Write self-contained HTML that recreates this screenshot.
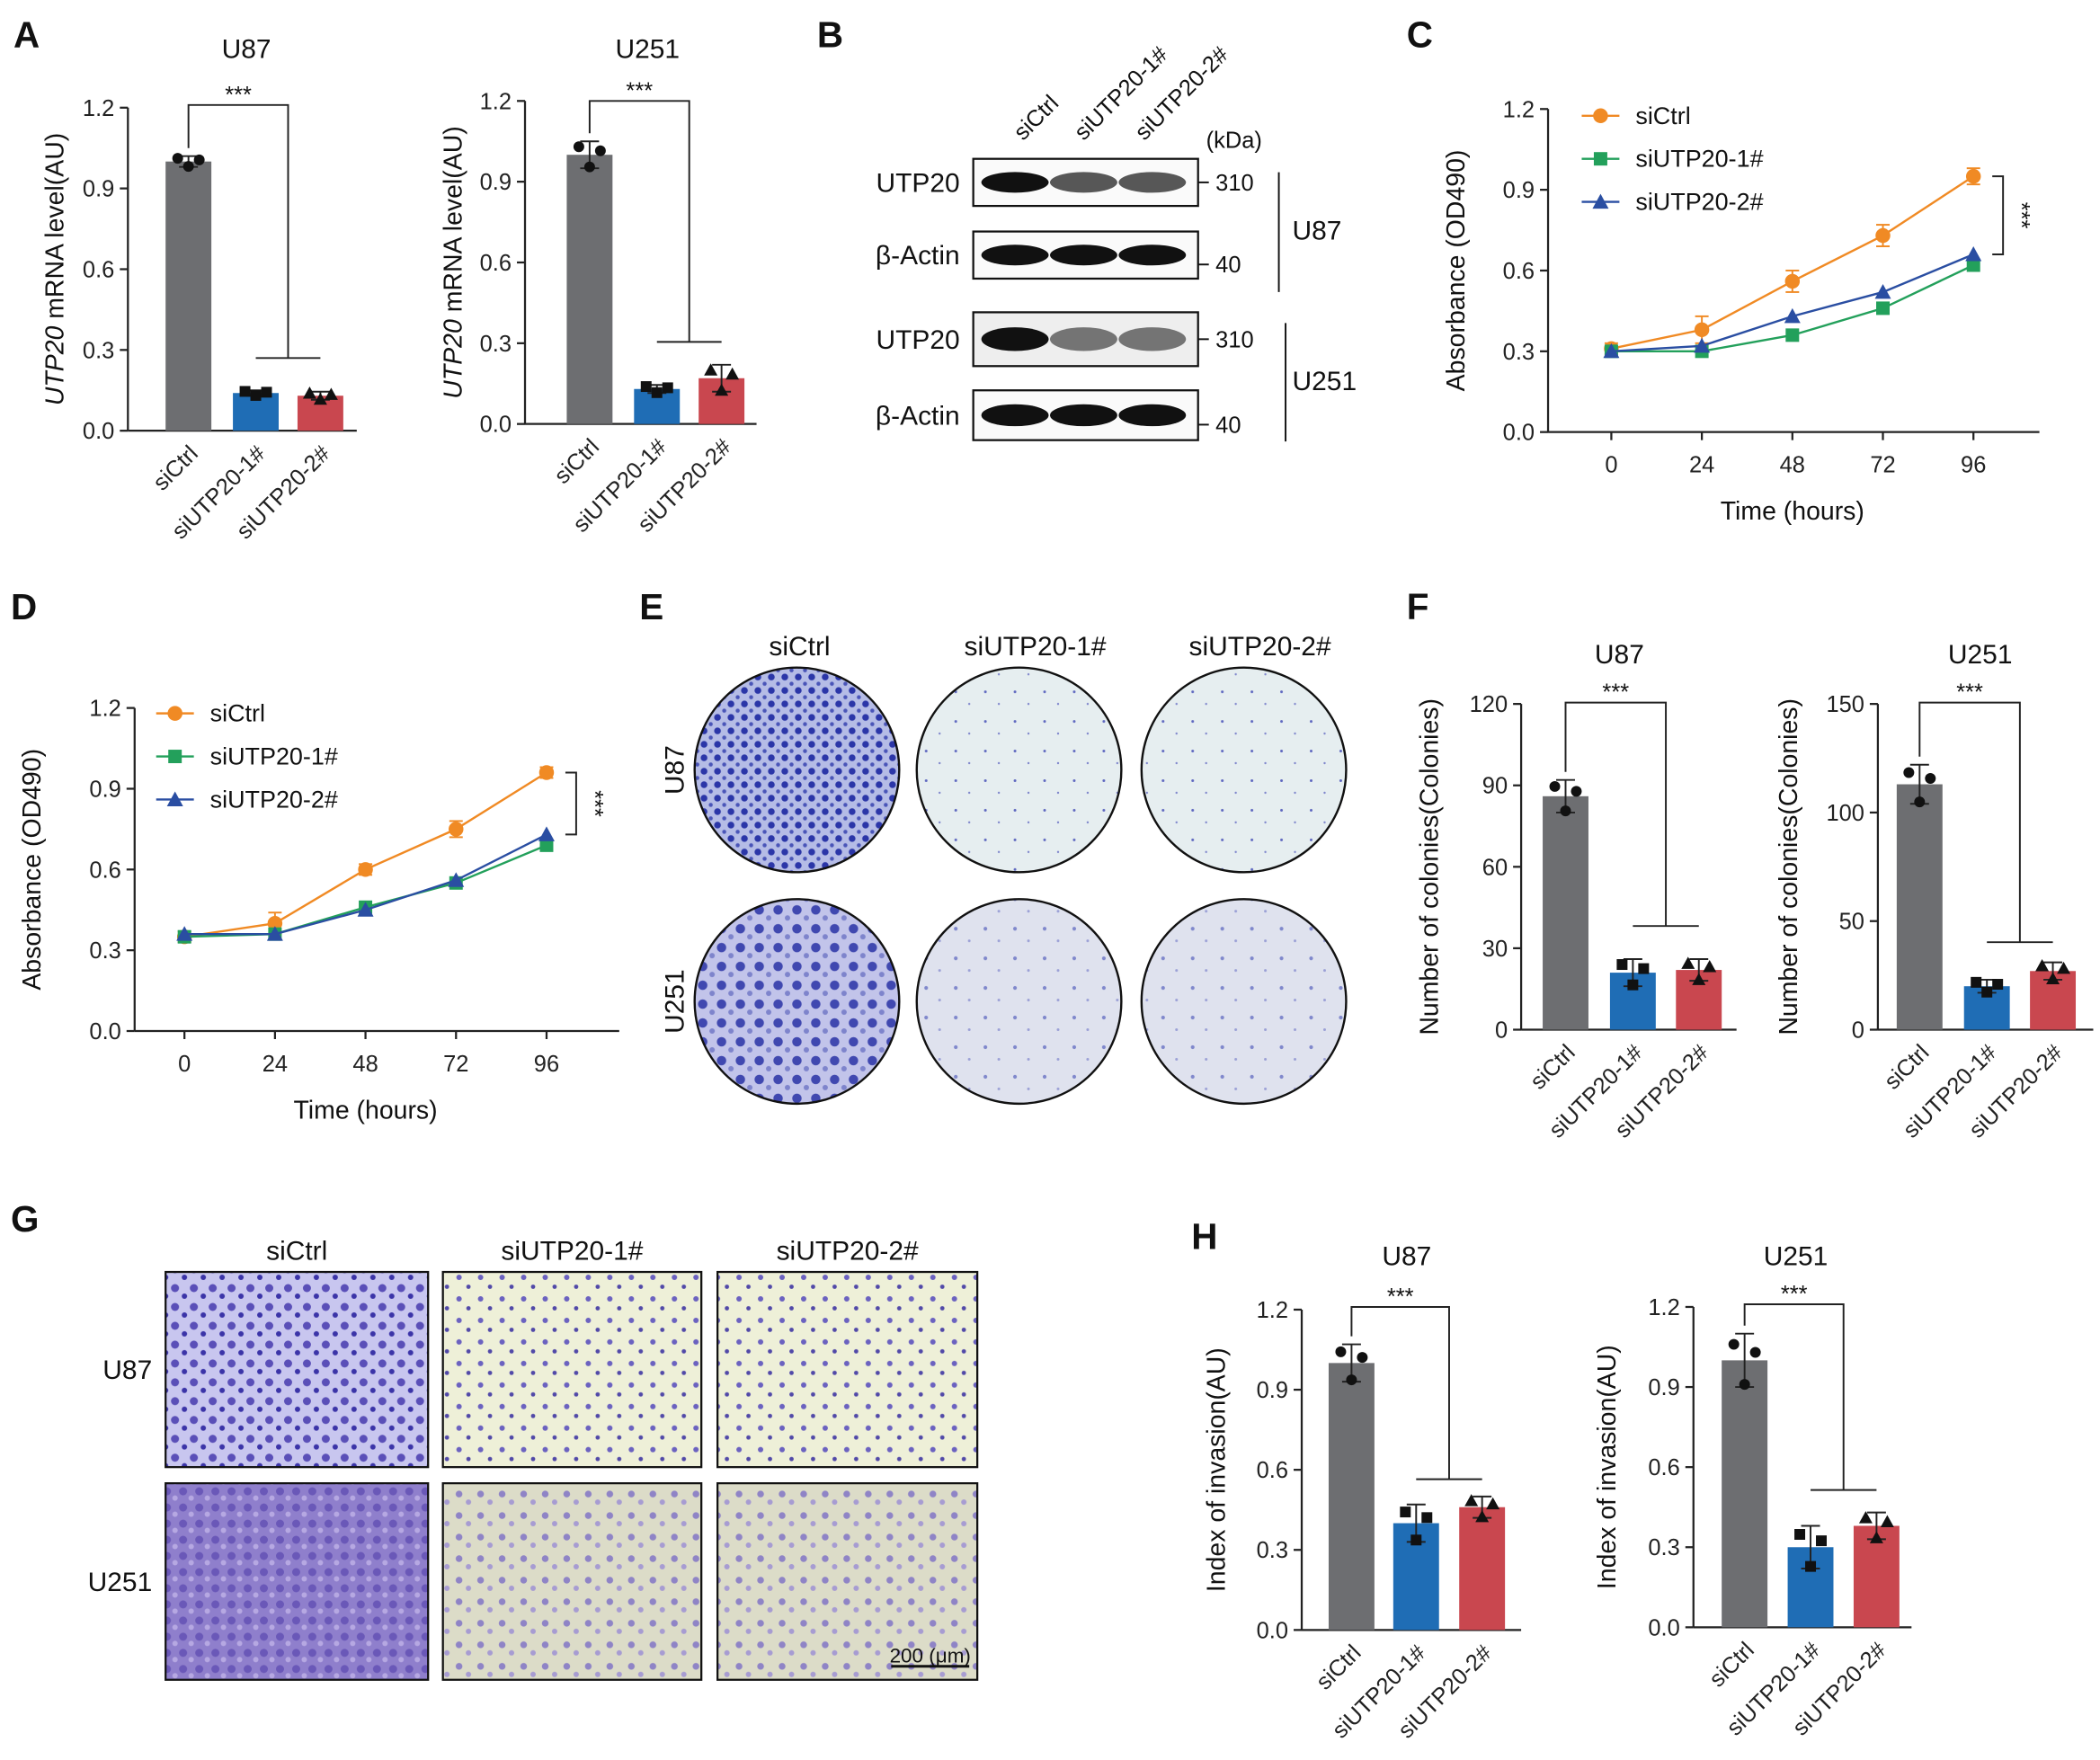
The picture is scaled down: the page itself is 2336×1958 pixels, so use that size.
<!DOCTYPE html>
<html><head><meta charset="utf-8"><style>
html,body{margin:0;padding:0;background:#fff;}
svg{display:block;font-family:"Liberation Sans",Arial,sans-serif;}
</style></head><body>
<svg id="fig" width="2336" height="1958" viewBox="0 0 1560 1307.6" xmlns="http://www.w3.org/2000/svg">
<defs>
<pattern id="cellsA" width="14" height="14" patternUnits="userSpaceOnUse"><rect width="14" height="14" fill="#c8c6ef"/><circle cx="4" cy="5" r="3" fill="#5a4fb8"/><circle cx="11" cy="11" r="2" fill="#3b34a8"/></pattern>
<pattern id="cellsB" width="16" height="16" patternUnits="userSpaceOnUse"><rect width="16" height="16" fill="#eef0d8"/><circle cx="5" cy="5" r="2" fill="#6b62c0"/><circle cx="12" cy="12" r="1.6" fill="#5149a8"/></pattern>
<pattern id="cellsC" width="12" height="12" patternUnits="userSpaceOnUse"><rect width="12" height="12" fill="#8f7fcc"/><circle cx="4" cy="4" r="3" fill="#6a58b8"/><circle cx="10" cy="9" r="2" fill="#b6a8e2"/></pattern>
<pattern id="cellsD" width="16" height="16" patternUnits="userSpaceOnUse"><rect width="16" height="16" fill="#dcdcc8"/><circle cx="5" cy="6" r="2.5" fill="#8f84c6"/><circle cx="12" cy="12" r="2" fill="#a79cd2"/></pattern>
<pattern id="colA" width="10" height="10" patternUnits="userSpaceOnUse"><rect width="10" height="10" fill="#b5bce6"/><circle cx="3" cy="3" r="2.5" fill="#2b36a8"/><circle cx="8" cy="8" r="1.5" fill="#4a55b8"/></pattern>
<pattern id="colB" width="14" height="14" patternUnits="userSpaceOnUse"><rect width="14" height="14" fill="#c2c4ea"/><circle cx="4" cy="4" r="3.5" fill="#4048b0"/><circle cx="11" cy="10" r="2" fill="#7e84cc"/></pattern>
<pattern id="colL" width="22" height="22" patternUnits="userSpaceOnUse"><rect width="22" height="22" fill="#e6eef0"/><circle cx="6" cy="8" r="1" fill="#5f68c0"/><circle cx="16" cy="17" r="0.8" fill="#7f86cc"/></pattern>
<pattern id="colM" width="22" height="22" patternUnits="userSpaceOnUse"><rect width="22" height="22" fill="#dfe2ee"/><circle cx="6" cy="8" r="1.4" fill="#8088cc"/><circle cx="16" cy="17" r="1" fill="#9ba0d6"/></pattern>
</defs>
<g id="root"></g>
</svg>
<script>
// ---- Data ----
var barCats = ["siCtrl","siUTP20-1#","siUTP20-2#"];
var a87Vals = [1.0, 0.14, 0.13];
var a87Err = [0.02, 0.01, 0.015];
var a251Vals = [1.0, 0.13, 0.17];
var a251Err = [0.05, 0.015, 0.05];
var f87Vals = [86, 21, 22];
var f87Err = [6, 5, 4];
var f251Vals = [113, 20, 27];
var f251Err = [9, 3, 4];
var h87Vals = [1.0, 0.40, 0.46];
var h87Err = [0.07, 0.07, 0.04];
var h251Vals = [1.0, 0.30, 0.38];
var h251Err = [0.10, 0.08, 0.05];
var ticks12 = [0, 0.3, 0.6, 0.9, 1.2];
var ticks120 = [0, 30, 60, 90, 120];
var ticks150 = [0, 50, 100, 150];
var timeHours = [0, 24, 48, 72, 96];
var seriesNames = ["siCtrl","siUTP20-1#","siUTP20-2#"];
var cCtrl = [0.31, 0.38, 0.56, 0.73, 0.95];
var cSi1 = [0.30, 0.30, 0.36, 0.46, 0.62];
var cSi2 = [0.30, 0.32, 0.43, 0.52, 0.66];
var cErr = [0.02, 0.05, 0.04, 0.04, 0.03];
var dCtrl = [0.35, 0.40, 0.60, 0.75, 0.96];
var dSi1 = [0.35, 0.36, 0.46, 0.55, 0.69];
var dSi2 = [0.36, 0.36, 0.45, 0.56, 0.73];
var dErr = [0.02, 0.04, 0.02, 0.03, 0.02];

var NS="http://www.w3.org/2000/svg";
var root=document.getElementById('root');
function el(tag,attrs,parent,text){var e=document.createElementNS(NS,tag);for(var k in attrs)e.setAttribute(k,attrs[k]);if(text!==undefined)e.textContent=text;(parent||root).appendChild(e);return e;}
var barColors=["#6d6e71","#1f6db5","#c9474f"];
var lineColors=["#f08a24","#23a05b","#2a4ea2"];

function panelLetter(t,x,y){var e=el('text',{x:x,y:y,'font-size':27,'font-weight':'bold',fill:'#111'},root,t);

}

function barChart(c){
  var g=el('g',{});
  
  
  function ys(v){return c.yBot-(v/c.ymax)*(c.yBot-c.yTop);}
  var t=el('text',{x:c.titleX,y:c.titleY,'font-size':20,'text-anchor':'middle',fill:'#111'},g,c.title);
  
  
  var ax=el('line',{x1:c.x0,y1:c.yTop,x2:c.x0,y2:c.yBot,stroke:'#222','stroke-width':1.5},g);
  
  
  var xa=el('line',{x1:c.x0,y1:c.yBot,x2:c.xEnd,y2:c.yBot,stroke:'#222','stroke-width':1.5},g);
  
  
  c.ticks.forEach(function(v){var y=ys(v);el('line',{x1:c.x0-6,y1:y,x2:c.x0,y2:y,stroke:'#222','stroke-width':1.5},g);
    var tl=el('text',{x:c.x0-10,y:y+6,'font-size':17,'text-anchor':'end',fill:'#222'},g,c.fmt(v));
    
    });
  var yt=el('text',{transform:'translate('+c.ytX+','+((c.yTop+c.yBot)/2)+') rotate(-90)','font-size':19,'text-anchor':'middle',fill:'#111'},g);
  
  
  if(c.italic){el('tspan',{'font-style':'italic'},yt,c.italic);}
  el('tspan',{},yt,c.ytitle);
  var w=34;
  c.vals.forEach(function(v,i){
    var cx=c.cx[i];
    var b=el('rect',{x:cx-w/2,y:ys(v),width:w,height:c.yBot-ys(v),fill:barColors[i]},g);
    
    
    var eh=ys(v+c.err[i]),elw=ys(Math.max(0,v-c.err[i]));
    el('line',{x1:cx,y1:eh,x2:cx,y2:elw,stroke:'#222','stroke-width':1.3},g);
    el('line',{x1:cx-7,y1:eh,x2:cx+7,y2:eh,stroke:'#222','stroke-width':1.3},g);
    el('line',{x1:cx-7,y1:elw,x2:cx+7,y2:elw,stroke:'#222','stroke-width':1.3},g);
    var offs=[[-8,0.6],[0,-0.9],[8,0.3]];
    offs.forEach(function(o){var py=ys(v+o[1]*c.err[i]);var px=cx+o[0];var p;
      if(i==0)p=el('circle',{cx:px,cy:py,r:4,fill:'#111'},g);
      else if(i==1)p=el('rect',{x:px-4,y:py-4,width:8,height:8,fill:'#111'},g);
      else p=el('path',{d:'M'+px+','+(py-5)+' L'+(px+5)+','+(py+4)+' L'+(px-5)+','+(py+4)+'Z',fill:'#111'},g);
      
      });
    var lab=el('text',{transform:'translate('+(cx+8)+','+(c.yBot+18)+') rotate(-45)','font-size':17,'text-anchor':'end',fill:'#222'},g,barCats[i]);
    
    
  });
  var top=c.brTop, lx=c.cx[0], rx=(c.cx[1]+c.cx[2])/2;
  el('path',{d:'M'+lx+','+(ys(c.vals[0]+c.err[0])-6)+' L'+lx+','+top+' L'+rx+','+top+' L'+rx+','+c.brLow,fill:'none',stroke:'#222','stroke-width':1.3},g);
  el('line',{x1:c.cx[1],y1:c.brLow,x2:c.cx[2],y2:c.brLow,stroke:'#222','stroke-width':1.3},g);
  var s=el('text',{x:(lx+rx)/2,y:top-2,'font-size':17,'text-anchor':'middle',fill:'#111'},g,'***');
  
  
}

function lineChart(c){
  var g=el('g',{});
  
  
  function ys(v){return c.yBot-(v/1.2)*(c.yBot-c.yTop);}
  function xs(t){return c.xa+(t/96)*(c.xb-c.xa);}
  var t=el('text',{x:c.titleX,y:c.titleY,'font-size':20,'text-anchor':'middle',fill:'#111'},g,c.title);
  
  
  var ax=el('line',{x1:c.x0,y1:c.yTop,x2:c.x0,y2:c.yBot,stroke:'#222','stroke-width':1.5},g);
  
  
  var xa=el('line',{x1:c.x0,y1:c.yBot,x2:c.xEnd,y2:c.yBot,stroke:'#222','stroke-width':1.5},g);
  
  
  ticks12.forEach(function(v){var y=ys(v);el('line',{x1:c.x0-6,y1:y,x2:c.x0,y2:y,stroke:'#222','stroke-width':1.5},g);
    var tl=el('text',{x:c.x0-10,y:y+6,'font-size':17,'text-anchor':'end',fill:'#222'},g,v.toFixed(1));
    
    });
  timeHours.forEach(function(h){var x=xs(h);el('line',{x1:x,y1:c.yBot,x2:x,y2:c.yBot+6,stroke:'#222','stroke-width':1.5},g);
    var tl=el('text',{x:x,y:c.yBot+30,'font-size':17,'text-anchor':'middle',fill:'#222'},g,String(h));
    
    });
  var xt=el('text',{x:(c.xa+c.xb)/2,y:c.yBot+65,'font-size':19,'text-anchor':'middle',fill:'#111'},g,'Time (hours)');
  
  
  var yt=el('text',{transform:'translate('+c.ytX+','+((c.yTop+c.yBot)/2)+') rotate(-90)','font-size':19,'text-anchor':'middle',fill:'#111'},g,'Absorbance (OD490)');
  
  
  [c.s1,c.s2,c.s3].forEach(function(vals,si){
    var col=lineColors[si];
    var d=vals.map(function(v,i){return (i?'L':'M')+xs(timeHours[i])+','+ys(v);}).join(' ');
    var p=el('path',{d:d,fill:'none',stroke:col,'stroke-width':1.6},g);
    
    
    vals.forEach(function(v,i){var x=xs(timeHours[i]),y=ys(v);
      if(si==0){var e1=ys(v+c.err[i]),e2=ys(v-c.err[i]);
        el('line',{x1:x,y1:e1,x2:x,y2:e2,stroke:col,'stroke-width':1.3},g);
        el('line',{x1:x-5,y1:e1,x2:x+5,y2:e1,stroke:col,'stroke-width':1.3},g);
        el('line',{x1:x-5,y1:e2,x2:x+5,y2:e2,stroke:col,'stroke-width':1.3},g);}
      var m;
      if(si==0)m=el('circle',{cx:x,cy:y,r:5.5,fill:col},g);
      else if(si==1)m=el('rect',{x:x-5,y:y-5,width:10,height:10,fill:col},g);
      else m=el('path',{d:'M'+x+','+(y-6)+' L'+(x+6)+','+(y+5)+' L'+(x-6)+','+(y+5)+'Z',fill:col},g);
      
      });
    var ly=c.legY+si*32;
    el('line',{x1:c.legX,y1:ly,x2:c.legX+28,y2:ly,stroke:col,'stroke-width':1.6},g);
    var lm;
    if(si==0)lm=el('circle',{cx:c.legX+14,cy:ly,r:5.5,fill:col},g);
    else if(si==1)lm=el('rect',{x:c.legX+9,y:ly-5,width:10,height:10,fill:col},g);
    else lm=el('path',{d:'M'+(c.legX+14)+','+(ly-6)+' L'+(c.legX+20)+','+(ly+5)+' L'+(c.legX+8)+','+(ly+5)+'Z',fill:col},g);
    var lt=el('text',{x:c.legX+40,y:ly+6,'font-size':18,fill:'#111'},g,seriesNames[si]);
    
    
  });
  var bx=xs(96)+22, y1=ys(c.s1[4]), y2=ys(c.s3[4]);
  el('path',{d:'M'+(bx-8)+','+y1+' L'+bx+','+y1+' L'+bx+','+y2+' L'+(bx-8)+','+y2,fill:'none',stroke:'#222','stroke-width':1.3},g);
  var s=el('text',{transform:'translate('+(bx+8)+','+((y1+y2)/2)+') rotate(90)','font-size':17,'text-anchor':'middle',fill:'#111'},g,'***');
  
  
}

var f1=function(v){return v.toFixed(1);}, f0=function(v){return String(v);};
panelLetter('A',10,35);
barChart({name:'chart-a-u87',x0:95,xEnd:265,yTop:80,yBot:320,ymax:1.2,ticks:ticks12,fmt:f1,cx:[140,190,238],vals:a87Vals,err:a87Err,title:'U87',titleX:183,titleY:43,ytX:47,italic:'UTP20',ytitle:' mRNA level(AU)',brTop:78,brLow:266});
barChart({name:'chart-a-u251',x0:390,xEnd:562,yTop:75,yBot:315,ymax:1.2,ticks:ticks12,fmt:f1,cx:[438,488,536],vals:a251Vals,err:a251Err,title:'U251',titleX:481,titleY:43,ytX:343,italic:'UTP20',ytitle:' mRNA level(AU)',brTop:75,brLow:254});

// Panel B western blot
panelLetter('B',607,35);
(function(){
  var g=el('g',{});
  
  
  ['siCtrl','siUTP20-1#','siUTP20-2#'].forEach(function(t,i){
    var e=el('text',{transform:'translate('+(760+i*45)+',105) rotate(-45)','font-size':17,fill:'#111'},g,t);
    
    });
  el('text',{x:896,y:110,'font-size':17,fill:'#111'},g,'(kDa)');
  var rows=[[118,153,'UTP20','310',0.7],[172,207,'β-Actin','40',1],[232,272,'UTP20','310',0.55],[290,327,'β-Actin','40',1]];
  rows.forEach(function(r,ri){
    var h=r[1]-r[0];
    var box=el('rect',{x:723,y:r[0],width:167,height:h,fill:ri==2?'#eee':'#fafafa',stroke:'#111','stroke-width':1.5},g);
    
    
    for(var i=0;i<3;i++){var op=(i==0?1:r[4]);
      el('ellipse',{cx:754+i*51,cy:(r[0]+r[1])/2,rx:25,ry:h*0.22,fill:'#111','fill-opacity':op},g);}
    var l=el('text',{x:713,y:(r[0]+r[1])/2+7,'font-size':20,'text-anchor':'end',fill:'#111'},g,r[2]);
    
    
    el('line',{x1:890,y1:(r[0]+r[1])/2+ (ri%2?7:0),x2:898,y2:(r[0]+r[1])/2+(ri%2?7:0),stroke:'#111','stroke-width':1.3},g);
    el('text',{x:903,y:(r[0]+r[1])/2+(ri%2?13:6),'font-size':17,fill:'#111'},g,r[3]);
  });
  el('line',{x1:950,y1:128,x2:950,y2:217,stroke:'#111','stroke-width':1.3},g);
  el('line',{x1:955,y1:240,x2:955,y2:328,stroke:'#111','stroke-width':1.3},g);
  el('text',{x:960,y:178,'font-size':20,fill:'#111'},g,'U87');
  el('text',{x:960,y:290,'font-size':20,fill:'#111'},g,'U251');
})();

panelLetter('C',1045,35);
lineChart({name:'chart-c-u87',x0:1150,xEnd:1515,yTop:81,yBot:321,xa:1197,xb:1466,titleX:1327,titleY:43,ytX:1088,legX:1175,legY:86,s1:cCtrl,s2:cSi1,s3:cSi2,err:cErr});
panelLetter('D',8,460);
lineChart({name:'chart-d-u251',x0:100,xEnd:460,yTop:526,yBot:766,xa:137,xb:406,titleX:278,titleY:493,ytX:30,legX:116,legY:530,s1:dCtrl,s2:dSi1,s3:dSi2,err:dErr});

// Panel E colonies
panelLetter('E',475,460);
(function(){
  var g=el('g',{});
  
  
  var cols=[592,757,924], rows=[572,744];
  ['siCtrl','siUTP20-1#','siUTP20-2#'].forEach(function(t,i){var e=el('text',{x:cols[i]+(i==0?2:12),y:487,'font-size':20,'text-anchor':'middle',fill:'#111'},g,t);
    
    });
  ['U87','U251'].forEach(function(t,i){var e=el('text',{transform:'translate(508,'+rows[i]+') rotate(-90)','font-size':20,'text-anchor':'middle',fill:'#111'},g,t);
    
    });
  var fills=[['url(#colA)','url(#colL)','url(#colL)'],['url(#colB)','url(#colM)','url(#colM)']];
  rows.forEach(function(cy,ri){cols.forEach(function(cx,ci){
    var c=el('circle',{cx:cx,cy:cy,r:76,fill:fills[ri][ci],stroke:'#111','stroke-width':1.6},g);
    
    });});
})();

panelLetter('F',1045,460);
barChart({name:'chart-f-u87',x0:1130,xEnd:1290,yTop:523,yBot:765,ymax:120,ticks:ticks120,fmt:f0,cx:[1163,1213,1262],vals:f87Vals,err:f87Err,title:'U87',titleX:1203,titleY:493,ytX:1068,ytitle:'Number of colonies(Colonies)',brTop:522,brLow:688});
barChart({name:'chart-f-u251',x0:1395,xEnd:1555,yTop:523,yBot:765,ymax:150,ticks:ticks150,fmt:f0,cx:[1426,1476,1525],vals:f251Vals,err:f251Err,title:'U251',titleX:1471,titleY:493,ytX:1335,ytitle:'Number of colonies(Colonies)',brTop:522,brLow:700});

// Panel G transwell
panelLetter('G',8,915);
(function(){
  var g=el('g',{});
  
  
  var xs=[[123,318],[329,521],[533,726]], ys=[[945,1090],[1102,1248]];
  ['siCtrl','siUTP20-1#','siUTP20-2#'].forEach(function(t,i){var e=el('text',{x:(xs[i][0]+xs[i][1])/2,y:936,'font-size':20,'text-anchor':'middle',fill:'#111'},g,t);
    
    });
  ['U87','U251'].forEach(function(t,i){var e=el('text',{x:113,y:(ys[i][0]+ys[i][1])/2+7,'font-size':20,'text-anchor':'end',fill:'#111'},g,t);
    
    });
  var fills=[['url(#cellsA)','url(#cellsB)','url(#cellsB)'],['url(#cellsC)','url(#cellsD)','url(#cellsD)']];
  ys.forEach(function(y,ri){xs.forEach(function(x,ci){
    var r=el('rect',{x:x[0],y:y[0],width:x[1]-x[0],height:y[1]-y[0],fill:fills[ri][ci],stroke:'#111','stroke-width':1.5},g);
    
    });});
  el('line',{x1:662,y1:1238,x2:720,y2:1238,stroke:'#111','stroke-width':2},g);
  var sb=el('text',{x:691,y:1235,'font-size':15,'text-anchor':'middle',fill:'#111'},g,'200 (μm)');
  
  
})();

panelLetter('H',885,928);
barChart({name:'chart-h-u87',x0:967,xEnd:1130,yTop:973,yBot:1211,ymax:1.2,ticks:ticks12,fmt:f1,cx:[1004,1052,1101],vals:h87Vals,err:h87Err,title:'U87',titleX:1045,titleY:940,ytX:910,ytitle:'Index of invasion(AU)',brTop:971,brLow:1099});
barChart({name:'chart-h-u251',x0:1258,xEnd:1420,yTop:971,yBot:1209,ymax:1.2,ticks:ticks12,fmt:f1,cx:[1296,1345,1394],vals:h251Vals,err:h251Err,title:'U251',titleX:1334,titleY:940,ytX:1200,ytitle:'Index of invasion(AU)',brTop:969,brLow:1107});
</script>
</body></html>
